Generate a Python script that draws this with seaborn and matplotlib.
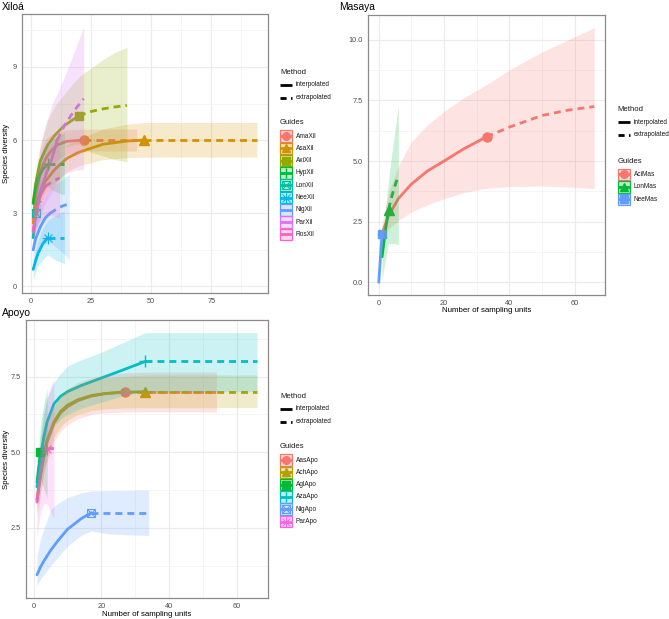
import matplotlib
matplotlib.use("Agg")
import matplotlib.pyplot as plt
import pandas as pd
import seaborn as sns
from matplotlib.colors import to_rgba
from matplotlib.patches import Rectangle

W, H = 669, 619

# ── Data: sampling units (t), species (S), 95% band (LO/HI) per site ─────────
# the observed sample is the point where t == OBS; beyond it is extrapolation

XIL_SITES = ["AmaXil", "AsaXil", "AxiXil", "HypXil", "LonXil",
             "NeeXil", "NigXil", "ParXil", "RosXil"]
XIL_OBS = [22, 47, 20, 7, 2, 7, 8, 11, 6]
XIL_T = [
    [1, 2, 4, 6, 8, 11, 15, 22, 30, 37, 44],
    [1, 3, 6, 10, 15, 20, 30, 40, 47, 60, 75, 94],
    [1, 2, 4, 7, 10, 14, 20, 25, 30, 35, 40],
    [1, 2, 3, 5, 7, 10, 14],
    [1, 2, 3, 4],
    [1, 2, 3, 5, 7, 10, 14],
    [1, 2, 4, 6, 8, 12, 16],
    [1, 2, 4, 6, 9, 11, 14, 18, 22],
    [1, 2, 3, 4, 6, 9, 12],
]
XIL_S = [
    [2.75, 3.7, 4.7, 5.2, 5.5, 5.8, 5.95, 6.0, 6.0, 6.0, 6.0],
    [2.6, 3.6, 4.3, 4.8, 5.25, 5.5, 5.83, 5.96, 6.0, 6.0, 6.0, 6.0],
    [3.45, 4.2, 5.15, 5.8, 6.2, 6.6, 7.0, 7.17, 7.28, 7.36, 7.42],
    [3.4, 4.0, 4.4, 4.8, 5.0, 5.0, 5.0],
    [2.0, 3.0, 3.3, 3.5],
    [0.7, 1.05, 1.35, 1.75, 2.0, 2.0, 2.0],
    [1.5, 1.95, 2.45, 2.8, 3.0, 3.25, 3.4],
    [2.3, 2.9, 3.9, 4.5, 5.3, 6.0, 6.6, 7.2, 7.7],
    [2.25, 2.9, 3.35, 3.7, 4.1, 4.3, 4.45],
]
XIL_LO = [
    [2.2, 3.0, 3.9, 4.5, 4.9, 5.2, 5.4, 5.55, 5.55, 5.55, 5.55],
    [2.0, 3.0, 3.75, 4.25, 4.7, 4.95, 5.2, 5.28, 5.3, 5.3, 5.3, 5.3],
    [3.0, 3.6, 4.5, 5.0, 5.4, 5.7, 5.85, 5.5, 5.35, 5.2, 5.1],
    [2.9, 3.3, 3.6, 3.9, 4.1, 3.9, 3.75],
    [1.7, 2.4, 2.6, 2.7],
    [0.25, 0.6, 0.85, 1.1, 1.3, 1.1, 0.93],
    [1.0, 1.3, 1.6, 1.75, 1.8, 1.5, 1.1],
    [1.8, 2.2, 2.9, 3.4, 3.9, 4.3, 4.6, 4.75, 4.8],
    [1.9, 2.3, 2.5, 2.7, 2.9, 2.9, 2.8],
]
XIL_HI = [
    [3.3, 4.4, 5.5, 6.0, 6.2, 6.35, 6.42, 6.45, 6.45, 6.45, 6.45],
    [3.2, 4.2, 4.85, 5.35, 5.8, 6.05, 6.45, 6.65, 6.72, 6.72, 6.72, 6.72],
    [3.9, 4.8, 5.8, 6.8, 7.4, 7.9, 8.6, 8.95, 9.3, 9.6, 9.8],
    [3.9, 4.6, 5.1, 5.6, 5.9, 6.1, 6.3],
    [2.3, 3.6, 4.2, 4.6],
    [1.0, 1.5, 1.9, 2.4, 2.7, 2.9, 3.1],
    [2.0, 2.6, 3.3, 3.7, 4.0, 4.3, 4.6],
    [2.9, 4.0, 5.8, 6.6, 7.5, 7.9, 8.6, 9.6, 10.65],
    [2.6, 3.5, 4.2, 4.7, 5.4, 5.9, 6.3],
]

MAS_SITES = ["AciMas", "LonMas", "NeeMas"]
MAS_OBS = [33, 3, 1]
MAS_T = [
    [1, 3, 6, 10, 15, 20, 26, 33, 40, 50, 58, 66],
    [1, 2, 3, 4, 5, 6],
    [0, 1],
]
MAS_S = [
    [2.0, 2.75, 3.45, 4.05, 4.6, 5.0, 5.5, 6.0, 6.4, 6.88, 7.1, 7.25],
    [1.05, 2.1, 3.0, 3.55, 4.0, 4.4],
    [0.0, 2.0],
]
MAS_LO = [
    [1.8, 2.2, 2.55, 2.9, 3.2, 3.45, 3.7, 3.88, 3.95, 3.97, 3.93, 3.87],
    [0.1, 0.9, 1.6, 1.6, 1.58, 1.55],
    [0.0, 2.0],
]
MAS_HI = [
    [2.4, 3.7, 4.8, 5.8, 6.5, 7.05, 7.6, 8.15, 8.76, 9.5, 10.0, 10.5],
    [1.6, 2.9, 4.2, 5.3, 6.3, 7.3],
    [0.0, 2.0],
]

APO_SITES = ["AasApo", "AchApo", "AglApo", "AzaApo", "NigApo", "ParApo"]
APO_OBS = [27, 33, 2, 33, 17, 4]
APO_T = [
    [1, 2, 3, 4, 6, 8, 10, 13, 17, 21, 27, 35, 45, 54],
    [1, 2, 3, 4, 6, 8, 10, 13, 17, 21, 27, 33, 40, 50, 66],
    [1, 2, 3, 4],
    [1, 2, 3, 4, 6, 8, 10, 14, 20, 26, 33, 40, 50, 66],
    [1, 2, 3, 5, 7, 10, 14, 17, 22, 28, 34],
    [1, 2, 3, 4, 5, 6],
]
APO_S = [
    [3.4, 4.2, 4.9, 5.35, 5.95, 6.3, 6.5, 6.7, 6.85, 6.93, 7.0, 7.0, 7.0, 7.0],
    [3.45, 4.25, 4.95, 5.4, 6.0, 6.35, 6.55, 6.73, 6.87, 6.94, 6.98, 7.0, 7.0, 7.0, 7.0],
    [4.0, 5.0, 5.2, 5.3],
    [3.85, 4.8, 5.5, 6.0, 6.6, 6.85, 7.0, 7.2, 7.45, 7.7, 8.0, 8.0, 8.0, 8.0],
    [0.95, 1.2, 1.4, 1.75, 2.05, 2.45, 2.8, 3.0, 3.0, 3.0, 3.0],
    [3.35, 4.35, 4.85, 5.1, 5.12, 5.13],
]
APO_LO = [
    [2.9, 3.6, 4.3, 4.7, 5.35, 5.7, 5.9, 6.1, 6.25, 6.3, 6.33, 6.33, 6.33, 6.33],
    [3.0, 3.7, 4.4, 4.8, 5.5, 5.85, 6.05, 6.25, 6.37, 6.43, 6.46, 6.47, 6.47, 6.47, 6.47],
    [3.7, 4.1, 3.8, 3.5],
    [3.4, 4.1, 4.7, 5.2, 5.85, 6.1, 6.25, 6.45, 6.65, 6.85, 7.0, 7.0, 7.0, 7.0],
    [0.6, 0.8, 0.95, 1.25, 1.5, 1.9, 2.25, 2.4, 2.3, 2.27, 2.25],
    [2.2, 3.0, 3.3, 3.3, 3.05, 2.8],
]
APO_HI = [
    [3.9, 4.8, 5.5, 6.0, 6.55, 6.9, 7.1, 7.3, 7.45, 7.55, 7.62, 7.65, 7.65, 7.65],
    [3.9, 4.8, 5.5, 6.0, 6.5, 6.85, 7.05, 7.2, 7.35, 7.45, 7.5, 7.55, 7.55, 7.55, 7.55],
    [4.3, 5.9, 6.6, 7.1],
    [4.3, 5.5, 6.3, 6.8, 7.3, 7.6, 7.85, 8.05, 8.3, 8.6, 8.95, 8.95, 8.95, 8.95],
    [1.6, 2.1, 2.45, 3.1, 3.3, 3.5, 3.65, 3.72, 3.73, 3.74, 3.75],
    [3.8, 5.3, 6.2, 6.8, 7.15, 7.4],
]

# ── Style ─────────────────────────────────────────────────────────────────────

HUE = {
    3: ["#F8766D", "#00BA38", "#619CFF"],
    6: ["#F8766D", "#B79F00", "#00BA38", "#00BFC4", "#619CFF", "#F564E3"],
    9: ["#F8766D", "#D39200", "#93AA00", "#00BA38", "#00C19F",
        "#00B9E3", "#619CFF", "#DB72FB", "#FF61C3"],
}
# ggplot's six default shapes (16, 17, 15, 3, 7, 8); later sites get no marker
SHAPES = [
    [dict(marker="o", ms=6.5)],
    [dict(marker="^", ms=7)],
    [dict(marker="s", ms=6.3)],
    [dict(marker="+", ms=8, mew=1.0)],
    [dict(marker="s", ms=6.3, mfc="none", mew=0.8), dict(marker="x", ms=6.3, mew=0.8)],
    [dict(marker="+", ms=8, mew=0.8), dict(marker="x", ms=6, mew=0.8)],
]
LW = 2.0
DASH = (2.5, 1.8)
KEY_DASH = (2.2, 1.6)
TXT = "#1A1A1A"


def curve_frame(sites, obs, t, s):
    rows = []
    for site, n, ts, ss in zip(sites, obs, t, s):
        for ti, si in zip(ts, ss):
            if ti <= n:
                rows.append((site, ti, si, "interpolated"))
            if ti >= n:
                rows.append((site, ti, si, "extrapolated"))
    return pd.DataFrame(rows, columns=["site", "t", "S", "method"])


def padded(lo, hi, mult=0.05):
    pad = (hi - lo) * mult
    return lo - pad, hi + pad


def px_axes(fig, box):
    l, t, r, b = box
    return fig.add_axes([l / W, 1 - b / H, (r - l) / W, (b - t) / H])


def draw_panel(ax, sites, obs, t, s, lo, hi, xticks, yticks, ylabels, xminor, yminor):
    colors = HUE[len(sites)]
    pal = dict(zip(sites, colors))
    df = curve_frame(sites, obs, t, s)

    sns.lineplot(data=df, x="t", y="S", hue="site", style="method",
                 hue_order=sites, style_order=["interpolated", "extrapolated"],
                 palette=pal, dashes={"interpolated": "", "extrapolated": DASH},
                 estimator=None, linewidth=LW, legend=False, ax=ax, zorder=2)

    for i, site in enumerate(sites):
        if i >= len(SHAPES):
            continue
        k = t[i].index(obs[i])
        for kw in SHAPES[i]:
            ax.plot([t[i][k]], [s[i][k]], ls="none", color=pal[site], zorder=3, **kw)

    # ribbons go on top, as in ggiNEXT
    for i, site in enumerate(sites):
        ax.fill_between(t[i], lo[i], hi[i], color=pal[site], alpha=0.2, lw=0, zorder=4)

    all_t = [v for ts in t for v in ts]
    all_y = [v for arr in (s, lo, hi) for ys in arr for v in ys]
    ax.set_xlim(*padded(min(all_t), max(all_t)))
    ax.set_ylim(*padded(min(all_y), max(all_y)))

    ax.set_xticks(xticks)
    ax.set_xticks(xminor, minor=True)
    ax.set_yticks(yticks)
    ax.set_yticklabels(ylabels)
    ax.set_yticks(yminor, minor=True)
    ax.set_xlabel("")
    ax.set_ylabel("")
    ax.set_axisbelow(True)
    ax.grid(which="major", color="#EBEBEB", lw=0.8)
    ax.grid(which="minor", color="#F2F2F2", lw=0.5)
    ax.tick_params(which="major", length=2.2, width=0.6, color="#333333",
                   labelcolor="#4D4D4D", labelsize=5.3, pad=1.5)
    ax.tick_params(which="minor", length=0)
    for sp in ax.spines.values():
        sp.set_color("#8A8A8A")
        sp.set_linewidth(0.9)
    return colors


def draw_legend(ov, sites, colors, x, method_y, guides_y, step):
    """Legend keys drawn in figure pixels on the overlay axes."""
    ov.text(x, method_y, "Method", fontsize=5.6, color=TXT, ha="left", va="center")
    for j, (lab, dash) in enumerate([("interpolated", None), ("extrapolated", KEY_DASH)]):
        y = method_y + 13 + 12.5 * j
        line, = ov.plot([x, x + 12], [y, y], color="black", lw=LW, solid_capstyle="butt")
        if dash:
            line.set_dashes(dash)
        ov.text(x + 16, y, lab, fontsize=4.7, color=TXT, ha="left", va="center")

    ov.text(x, guides_y, "Guides", fontsize=5.6, color=TXT, ha="left", va="center")
    for i, (site, c) in enumerate(zip(sites, colors)):
        y = guides_y + 13 + step * i
        ov.add_patch(Rectangle((x, y - 5.8), 12, 11.6, facecolor=to_rgba(c, 0.25),
                               edgecolor=c, lw=0.9))
        ov.plot([x, x + 12], [y, y], color=c, lw=LW, solid_capstyle="butt")
        if i < len(SHAPES):
            for kw in SHAPES[i]:
                kw = dict(kw)
                kw["ms"] = kw["ms"] * 0.85
                ov.plot([x + 6], [y], ls="none", color=c, **kw)
        ov.text(x + 16, y, site, fontsize=4.7, color=TXT, ha="left", va="center")


# ── Figure ────────────────────────────────────────────────────────────────────

sns.set_style("white")
plt.rcParams["font.family"] = ["Liberation Sans", "DejaVu Sans"]

fig = plt.figure(figsize=(W / 100, H / 100), dpi=100)

ax_x = px_axes(fig, (22, 14, 268, 293))
cols_x = draw_panel(ax_x, XIL_SITES, XIL_OBS, XIL_T, XIL_S, XIL_LO, XIL_HI,
                    [0, 25, 50, 75], [0, 3, 6, 9], ["0", "3", "6", "9"],
                    [12.5, 37.5, 62.5, 87.5], [1.5, 4.5, 7.5, 10.5])

ax_m = px_axes(fig, (368, 15, 605, 295))
cols_m = draw_panel(ax_m, MAS_SITES, MAS_OBS, MAS_T, MAS_S, MAS_LO, MAS_HI,
                    [0, 20, 40, 60], [0, 2.5, 5, 7.5, 10], ["0.0", "2.5", "5.0", "7.5", "10.0"],
                    [10, 30, 50], [1.25, 3.75, 6.25, 8.75])

ax_a = px_axes(fig, (26, 320, 268, 598))
cols_a = draw_panel(ax_a, APO_SITES, APO_OBS, APO_T, APO_S, APO_LO, APO_HI,
                    [0, 20, 40, 60], [2.5, 5, 7.5], ["2.5", "5.0", "7.5"],
                    [10, 30, 50], [1.25, 3.75, 6.25, 8.75])

# overlay in figure pixels for legends and titles
ov = fig.add_axes([0, 0, 1, 1])
ov.set_xlim(0, W)
ov.set_ylim(H, 0)
ov.axis("off")
ov.patch.set_alpha(0)

draw_legend(ov, XIL_SITES, cols_x, 280, 72, 123, 12.3)
draw_legend(ov, MAS_SITES, cols_m, 617.5, 109.3, 161.3, 12.5)
draw_legend(ov, APO_SITES, cols_a, 280, 396, 447, 12.3)

for x, y, txt in [(2, 7, "Xiloá"), (339, 7, "Masaya"), (2, 313, "Apoyo")]:
    ov.text(x, y, txt, fontsize=7.4, color="black", ha="left", va="center")
for y in [(14 + 293) / 2, (320 + 598) / 2]:
    ov.text(7, y, "Species diversity", fontsize=5.7, color="black",
            rotation=90, ha="center", va="center")
for x, y in [((368 + 605) / 2, 310), ((26 + 268) / 2, 614)]:
    ov.text(x, y, "Number of sampling units", fontsize=5.7, color="black",
            ha="center", va="center")

fig.savefig("out.png", dpi=100)
